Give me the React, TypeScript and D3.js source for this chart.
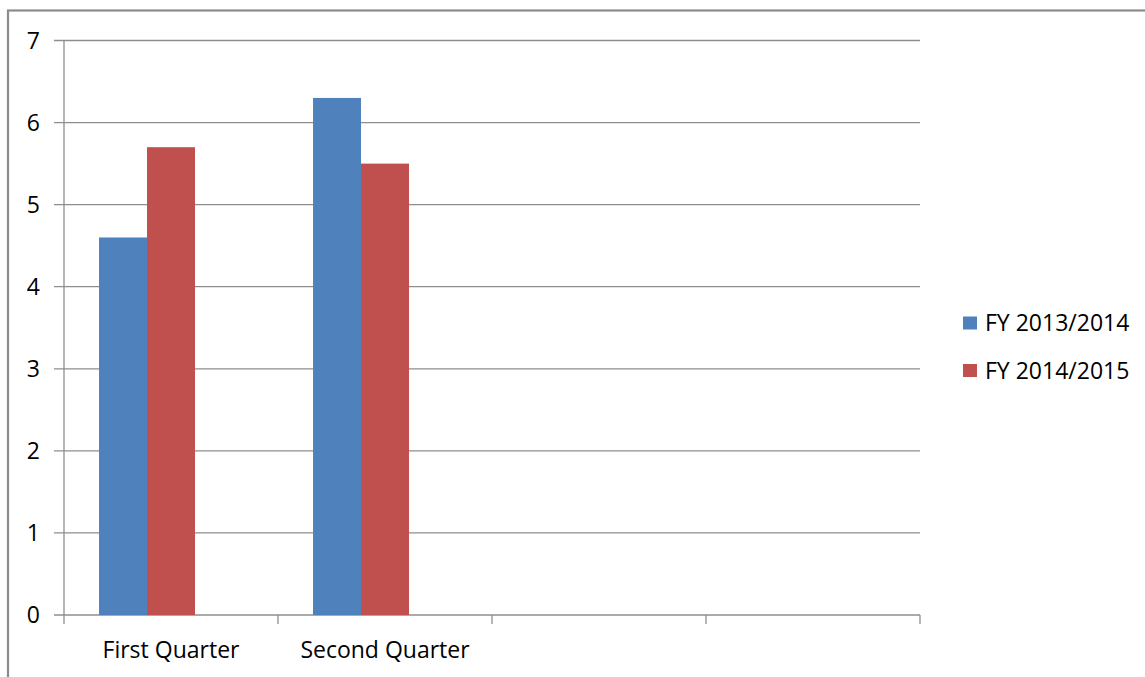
import React from "react";
import * as d3 from "d3";

const categories = ["First Quarter", "Second Quarter", "", " "];
const seriesNames = ["FY 2013/2014", "FY 2014/2015"];
const seriesColors = ["#4F81BD", "#C0504D"];
const fy1314 = [4.6, 6.3, null, null];
const fy1415 = [5.7, 5.5, null, null];
const yTicks = [0, 1, 2, 3, 4, 5, 6, 7];
// Excel-style slot count (3 slots per category, third series empty)
const slots = ["s0", "s1", "s2"];

const W = 1145;
const H = 677;
const M = { left: 64, right: 920, top: 40.5, bottom: 615 };
const FONT = "'Open Sans', 'Noto Sans', sans-serif";
const FS = 23;

export default function App() {
  const x = d3.scaleBand<string>().domain(categories).range([M.left, M.right]).paddingInner(0).paddingOuter(0);
  const y = d3.scaleLinear().domain([0, 7]).range([M.bottom, M.top]);
  const bw = x.bandwidth();
  const inner = d3.scaleBand<string>().domain(slots).range([0, bw]).paddingInner(0).paddingOuter(0.73);
  const series = [fy1314, fy1415];

  const catTicks = categories.map((c) => x(c) as number).concat([M.right]);

  return (
    <svg width={W} height={H} style={{ position: "absolute", left: 0, top: 0, background: "#fff" }}>
      <rect x={0} y={0} width={W} height={H} fill="#fff" />
      <rect x={8} y={10.5} width={W + 20} height={H + 20} fill="none" stroke="#8c8c8c" strokeWidth={2.2} />
      {yTicks.map((t) => (
        <line key={"g" + t} x1={M.left - 10} x2={M.right} y1={y(t)} y2={y(t)} stroke="#8e8e8e" strokeWidth={1.3} />
      ))}
      <line x1={M.left} x2={M.left} y1={M.top} y2={M.bottom} stroke="#8e8e8e" strokeWidth={1.3} />
      {catTicks.map((cx, i) => (
        <line key={"ct" + i} x1={cx} x2={cx} y1={M.bottom} y2={M.bottom + 9} stroke="#8e8e8e" strokeWidth={1.3} />
      ))}
      {series.map((vals, si) =>
        vals.map((v, ci) =>
          v == null ? null : (
            <rect
              key={si + "-" + ci}
              x={(x(categories[ci]) as number) + (inner(slots[si]) as number)}
              y={y(v)}
              width={inner.bandwidth()}
              height={y(0) - y(v)}
              fill={seriesColors[si]}
            />
          )
        )
      )}
      {yTicks.map((t) => (
        <text key={"yl" + t} x={40} y={y(t)} dy="0.35em" textAnchor="end" fontFamily={FONT} fontSize={FS} fill="#000">
          {t}
        </text>
      ))}
      {categories.map((c) => (
        <text key={"xl" + c} x={(x(c) as number) + bw / 2} y={658} textAnchor="middle" fontFamily={FONT} fontSize={FS} fill="#000">
          {c.trim()}
        </text>
      ))}
      {seriesNames.map((n, i) => (
        <g key={"lg" + i} transform={`translate(963, ${316.5 + i * 47.5})`}>
          <rect x={0} y={0} width={14} height={13} fill={seriesColors[i]} />
          <text x={22} y={6.5} dy="0.35em" fontFamily={FONT} fontSize={FS} fill="#000">
            {n}
          </text>
        </g>
      ))}
    </svg>
  );
}
